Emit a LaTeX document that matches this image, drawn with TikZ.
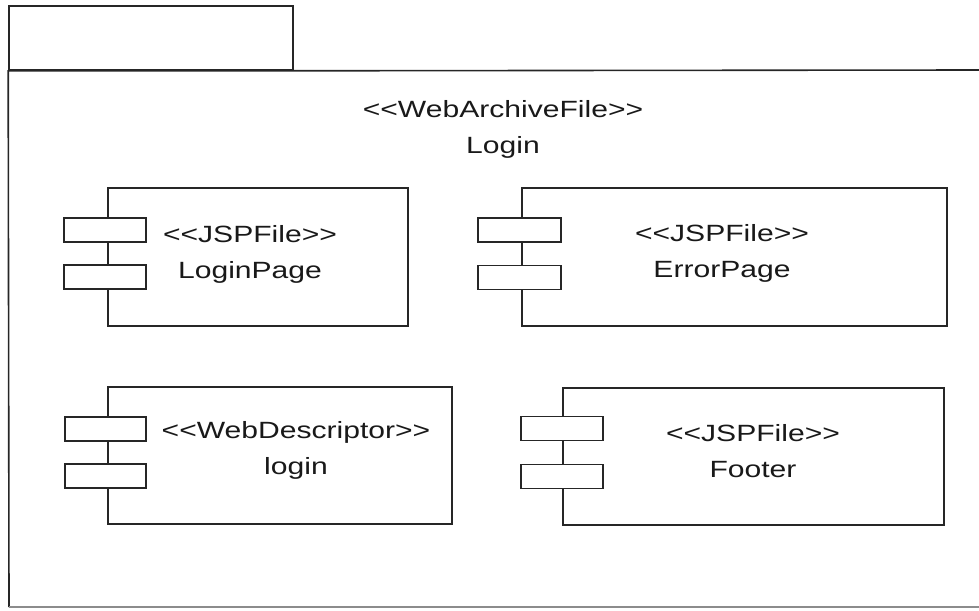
\documentclass[tikz,border=0pt]{standalone}
\usepackage{fontspec}
\newfontfamily\diafont[FakeStretch=1.28]{Liberation Sans}
\begin{document}
\begin{tikzpicture}[x=1pt,y=-1pt,
  ln/.style={draw=black!85, line width=1.6pt},
  comp/.style={ln, rectangle, fill=white, inner sep=0pt},
  port/.style={ln, rectangle, fill=white, inner sep=0pt, minimum height=24pt},
  lbl/.style={align=center, inner sep=0pt, font=\diafont\fontsize{23.5}{36}\selectfont, text=black!90}]
\useasboundingbox (0,0) rectangle (979,610);
% package
\node[ln, rectangle, inner sep=0pt, minimum width=284pt, minimum height=64pt] (tab) at (151,38) {};
\coordinate (tr) at (979,70);
\coordinate (bl) at (9,607);
\coordinate (br) at (979,607);
\draw[ln] (tr) -- (tab.south east) -- (tab.south west) -- (bl);
\draw[draw=black!45, line width=1.2pt] (bl) -- (br);
\node[lbl] (pkgtxt) at (503,129) {<{}<WebArchiveFile>{}>\\Login};
% component 1
\node[comp, minimum width=300pt, minimum height=138pt] (c1) at (258,257) {};
\node[port, minimum width=82pt] (c1a) at (105,230) {};
\node[port, minimum width=82pt] (c1b) at (105,277) {};
\node[lbl] (t1) at (250,254) {<{}<JSPFile>{}>\\LoginPage};
% component 2
\node[comp, minimum width=425pt, minimum height=138pt] (c2) at (734.5,257) {};
\node[port, minimum width=83pt] (c2a) at (519.5,230) {};
\node[port, minimum width=83pt] (c2b) at (519.5,277.5) {};
\node[lbl] (t2) at (722,253) {<{}<JSPFile>{}>\\ErrorPage};
% component 3
\node[comp, minimum width=344pt, minimum height=137pt] (c3) at (280,455.5) {};
\node[port, minimum width=81pt] (c3a) at (105.5,429) {};
\node[port, minimum width=81pt] (c3b) at (105.5,476) {};
\node[lbl] (t3) at (296,450) {<{}<WebDescriptor>{}>\\login};
% component 4
\node[comp, minimum width=381pt, minimum height=137pt] (c4) at (753.5,456.5) {};
\node[port, minimum width=82pt] (c4a) at (562,428.5) {};
\node[port, minimum width=82pt] (c4b) at (562,476.5) {};
\node[lbl] (t4) at (753,451) {<{}<JSPFile>{}>\\Footer};
\end{tikzpicture}
\end{document}
